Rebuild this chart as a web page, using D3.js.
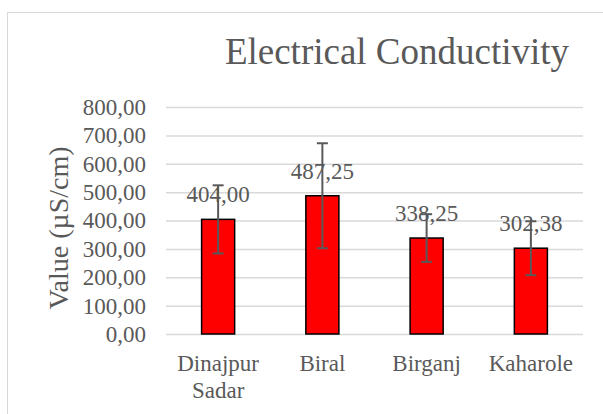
<!DOCTYPE html>
<html>
<head>
<meta charset="utf-8">
<script src="https://cdn.jsdelivr.net/npm/d3@7"></script>
<style>
  body { margin: 0; background: #fff; }
  text { font-family: "Liberation Serif", "Times New Roman", serif; fill: #595959; }
</style>
</head>
<body>
<div id="chart"></div>
<script>
// data
var categories = ["Dinajpur Sadar", "Biral", "Birganj", "Kaharole"];
var values = [404.00, 487.25, 338.25, 302.38];
var errors = [120, 185, 84, 95];
var yTicks = [0, 100, 200, 300, 400, 500, 600, 700, 800];

var W = 603, H = 414;
var margin = {top: 107, left: 166, right: 20, bottom: 80};
var plotRight = 583, plotBottom = 334;

var fmt = function(v) { return d3.format(".2f")(v).replace(".", ","); };

var svg = d3.select("#chart")
  .append("svg")
    .attr("width", W)
    .attr("height", H);

// chart frame
svg.append("rect")
  .attr("x", 7.5).attr("y", 12.5)
  .attr("width", W + 20).attr("height", H + 20)
  .attr("fill", "none")
  .attr("stroke", "#d9d9d9")
  .attr("stroke-width", 1);

var x = d3.scaleBand()
  .domain(categories)
  .range([margin.left, plotRight])
  .paddingInner(0.683)
  .paddingOuter(0.683 / 2);

var y = d3.scaleLinear()
  .domain([0, 800])
  .range([plotBottom, margin.top]);

// gridlines + y tick labels
var yAxis = svg.append("g")
  .attr("transform", "translate(" + margin.left + ",0)")
  .call(d3.axisLeft(y).tickValues(yTicks).tickFormat(fmt)
    .tickSize(-(plotRight - margin.left)).tickPadding(20));
yAxis.select(".domain").remove();
yAxis.selectAll("line").attr("stroke", "#d9d9d9").attr("stroke-width", 1.5);
yAxis.selectAll("text")
  .attr("font-size", 23)
  .attr("fill", "#595959")
  .attr("font-family", "Liberation Serif, Times New Roman, serif");

// bars
svg.selectAll("rect.bar")
  .data(values)
  .enter()
  .append("rect")
    .attr("class", "bar")
    .attr("x", function(d, i) { return x(categories[i]); })
    .attr("y", function(d) { return y(d); })
    .attr("width", x.bandwidth())
    .attr("height", function(d) { return plotBottom - y(d); })
    .attr("fill", "#ff0000")
    .attr("stroke", "#000")
    .attr("stroke-width", 1.5);

// x labels (wrapped)
var xl = svg.selectAll("text.xl")
  .data(categories)
  .enter()
  .append("text")
    .attr("class", "xl")
    .attr("text-anchor", "middle")
    .attr("font-size", 23)
    .attr("y", 371);
xl.each(function(d) {
  var words = d.split(" ");
  var t = d3.select(this);
  var cx = x(d) + x.bandwidth() / 2;
  words.forEach(function(w, k) {
    t.append("tspan").attr("x", cx).attr("dy", k === 0 ? 0 : 26.5).text(w);
  });
});

// data labels
svg.selectAll("text.dl")
  .data(values)
  .enter()
  .append("text")
    .attr("class", "dl")
    .attr("text-anchor", "middle")
    .attr("font-size", 23)
    .attr("x", function(d, i) { return x(categories[i]) + x.bandwidth() / 2; })
    .attr("y", function(d) { return y(d) - 17; })
    .text(fmt);

// error bars
var eb = svg.selectAll("g.err")
  .data(values)
  .enter()
  .append("g")
    .attr("class", "err")
    .attr("stroke", "#595959")
    .attr("stroke-width", 2);
eb.append("line")
  .attr("x1", function(d, i) { return x(categories[i]) + x.bandwidth() / 2; })
  .attr("x2", function(d, i) { return x(categories[i]) + x.bandwidth() / 2; })
  .attr("y1", function(d, i) { return y(d + errors[i]); })
  .attr("y2", function(d, i) { return y(d - errors[i]); });
[1, -1].forEach(function(s) {
  eb.append("line")
    .attr("x1", function(d, i) { return x(categories[i]) + x.bandwidth() / 2 - 5.5; })
    .attr("x2", function(d, i) { return x(categories[i]) + x.bandwidth() / 2 + 5.5; })
    .attr("y1", function(d, i) { return y(d + s * errors[i]); })
    .attr("y2", function(d, i) { return y(d + s * errors[i]); });
});

// titles
svg.append("text")
  .attr("x", 397).attr("y", 64)
  .attr("text-anchor", "middle")
  .attr("font-size", 37)
  .text("Electrical Conductivity");

svg.append("text")
  .attr("transform", "translate(68,228) rotate(-90)")
  .attr("text-anchor", "middle")
  .attr("font-size", 28)
  .text("Value (µS/cm)");
</script>
</body>
</html>
